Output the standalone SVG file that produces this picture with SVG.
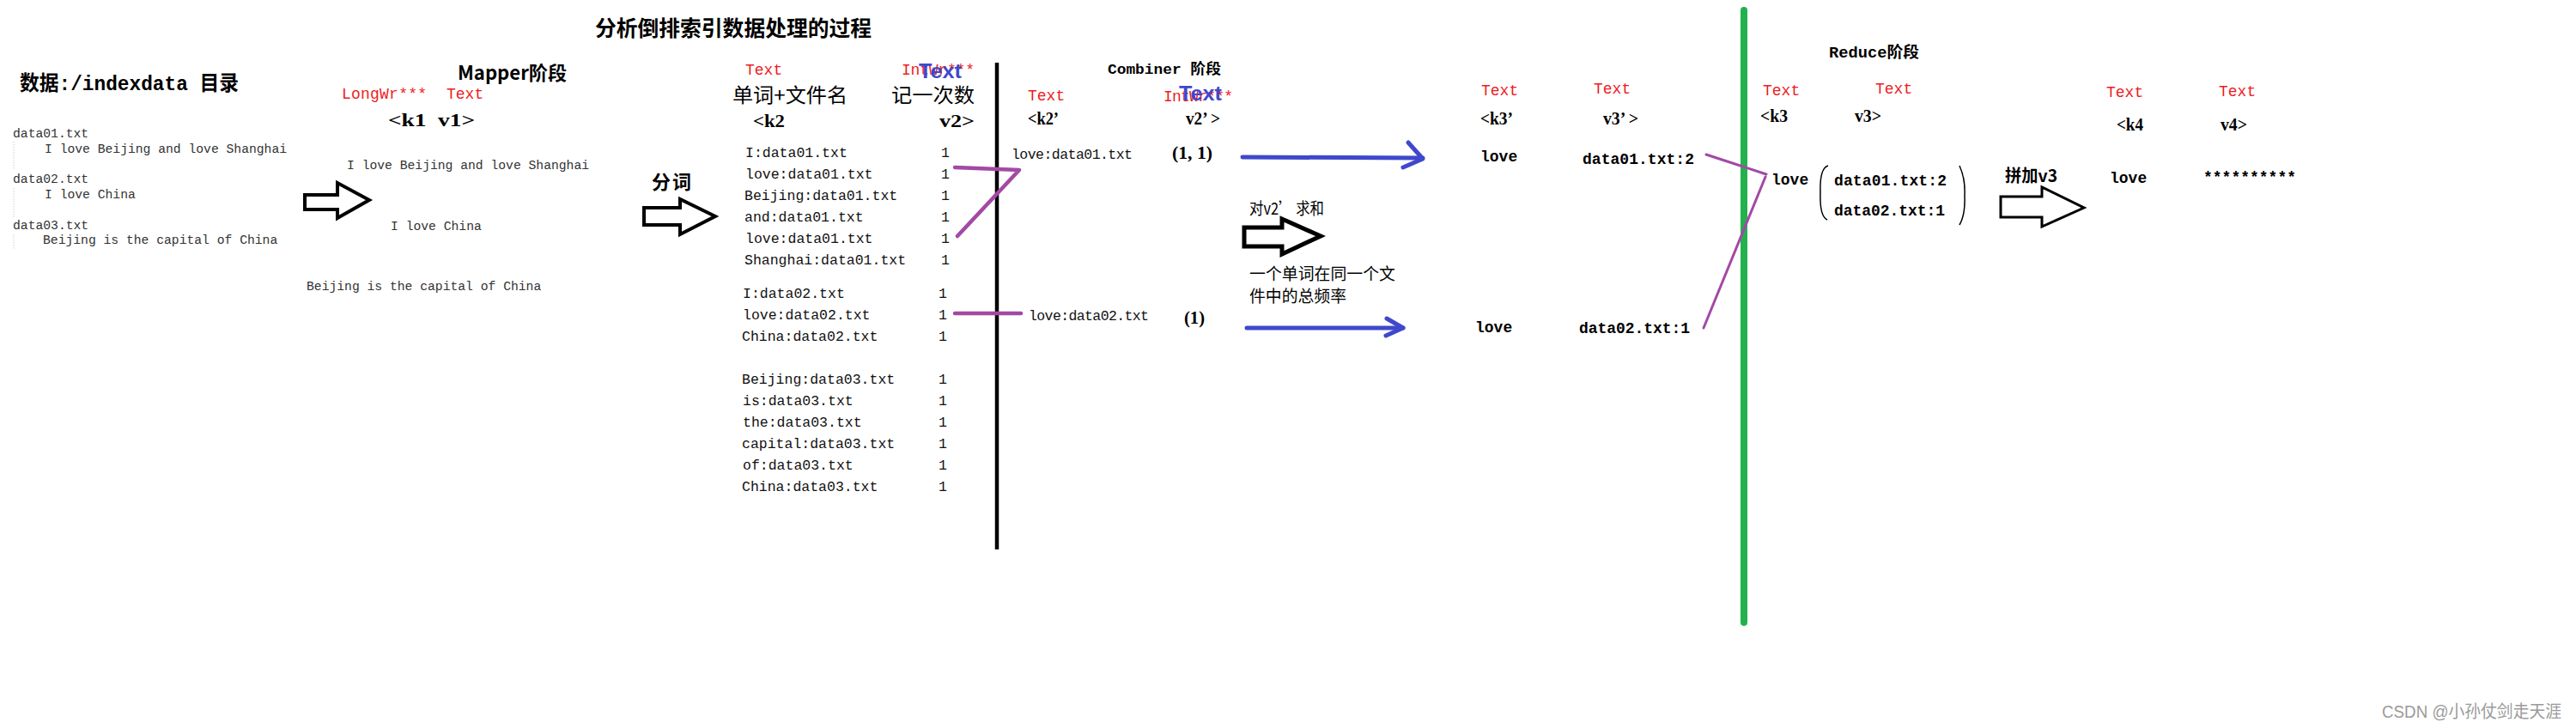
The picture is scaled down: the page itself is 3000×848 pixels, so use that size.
<svg xmlns="http://www.w3.org/2000/svg" width="3000" height="848" viewBox="0 0 3000 848">
<style>
  .cn { font-family: "Noto Sans CJK SC", "Liberation Sans", sans-serif; fill: #000; }
  .mixb { font-family: "Liberation Mono", "Noto Sans CJK SC", monospace; font-weight: bold; fill: #000; }
  .file { font-family: "Liberation Mono", monospace; font-size: 14.7px; fill: #333; }
  .row { font-family: "Liberation Mono", monospace; font-size: 16.5px; fill: #111; }
  .red { font-family: "Liberation Mono", monospace; font-size: 18px; fill: #ED1C24; }
  .blue { font-family: "Liberation Sans", sans-serif; font-size: 24px; font-weight: bold; fill: #3F48CC; }
  .kv { font-family: "Liberation Serif", serif; font-weight: bold; font-size: 20px; fill: #000; }
  .val { font-family: "Liberation Mono", monospace; font-weight: bold; font-size: 18px; fill: #000; }
  .hollow { fill: #fff; stroke: #000; stroke-linejoin: miter; }
  .purple { fill: none; stroke: #A349A4; stroke-linecap: round; stroke-linejoin: round; }
  .bluearrow { fill: none; stroke: #3F48CC; stroke-width: 5; stroke-linecap: round; stroke-linejoin: round; }
  .bracket { fill: none; stroke: #000; stroke-width: 1.5; }
</style>
<rect width="3000" height="848" fill="#fff"/>

<g id="title">
  <text class="cn" x="693" y="42" font-size="24.5" font-weight="bold" textLength="322" lengthAdjust="spacingAndGlyphs">分析倒排索引数据处理的过程</text>
</g>

<g id="input-data">
  <text class="mixb" x="23" y="105" font-size="24" textLength="255" lengthAdjust="spacingAndGlyphs">数据:/indexdata 目录</text>
  <path d="M16,165 V197 M16,219 V253 M16,273 V290" stroke="#cfcfcf" stroke-width="1" stroke-dasharray="1.5 1.5" fill="none"/>
  <text class="file" x="15" y="160">data01.txt</text>
  <text class="file" x="52" y="178">I love Beijing and love Shanghai</text>
  <text class="file" x="15" y="213">data02.txt</text>
  <text class="file" x="52" y="231">I love China</text>
  <text class="file" x="15" y="267">data03.txt</text>
  <text class="file" x="50" y="284">Beijing is the capital of China</text>
</g>

<g id="mapper-stage">
  <text class="cn" x="533" y="93" font-size="22" font-weight="bold" textLength="127" lengthAdjust="spacingAndGlyphs">Mapper阶段</text>
  <text class="red" x="398" y="115" textLength="99">LongWr***</text>
  <text class="red" x="520" y="115">Text</text>
  <text class="kv" x="452" y="147" font-size="22" textLength="101" lengthAdjust="spacingAndGlyphs">&lt;k1&#160;&#160;v1&gt;</text>
  <text class="file" x="404" y="197">I love Beijing and love Shanghai</text>
  <text class="file" x="455" y="268">I love China</text>
  <text class="file" x="357" y="338">Beijing is the capital of China</text>
</g>

<g id="split-label">
  <text class="cn" x="759" y="220" font-size="22" font-weight="bold" textLength="46">分词</text>
</g>

<g id="map-output">
  <text class="red" x="868" y="87">Text</text>
  <text class="red" x="1050" y="87" textLength="85">IntWr***</text>
  <text class="blue" x="1070" y="91" textLength="50" lengthAdjust="spacingAndGlyphs">Text</text>
  <text class="cn" x="853" y="119" font-size="23" textLength="134" lengthAdjust="spacingAndGlyphs">单词+文件名</text>
  <text class="cn" x="1038" y="119" font-size="23" textLength="97" lengthAdjust="spacingAndGlyphs">记一次数</text>
  <text class="kv" x="877" y="148" font-size="23" textLength="37" lengthAdjust="spacingAndGlyphs">&lt;k2</text>
  <text class="kv" x="1094" y="148" font-size="23" textLength="41" lengthAdjust="spacingAndGlyphs">v2&gt;</text>
  <text class="row" x="868" y="183">I:data01.txt</text>
  <text class="row" x="868" y="208">love:data01.txt</text>
  <text class="row" x="867" y="233">Beijing:data01.txt</text>
  <text class="row" x="867" y="258">and:data01.txt</text>
  <text class="row" x="868" y="283">love:data01.txt</text>
  <text class="row" x="867" y="308">Shanghai:data01.txt</text>
  <text class="row" x="865" y="347">I:data02.txt</text>
  <text class="row" x="865" y="372">love:data02.txt</text>
  <text class="row" x="864" y="397">China:data02.txt</text>
  <text class="row" x="864" y="447">Beijing:data03.txt</text>
  <text class="row" x="865" y="472">is:data03.txt</text>
  <text class="row" x="865" y="497">the:data03.txt</text>
  <text class="row" x="864" y="522">capital:data03.txt</text>
  <text class="row" x="865" y="547">of:data03.txt</text>
  <text class="row" x="864" y="572">China:data03.txt</text>
  <text class="row" x="1096" y="183">1</text>
  <text class="row" x="1096" y="208">1</text>
  <text class="row" x="1096" y="233">1</text>
  <text class="row" x="1096" y="258">1</text>
  <text class="row" x="1096" y="283">1</text>
  <text class="row" x="1096" y="308">1</text>
  <text class="row" x="1093" y="347">1</text>
  <text class="row" x="1093" y="372">1</text>
  <text class="row" x="1093" y="397">1</text>
  <text class="row" x="1093" y="447">1</text>
  <text class="row" x="1093" y="472">1</text>
  <text class="row" x="1093" y="497">1</text>
  <text class="row" x="1093" y="522">1</text>
  <text class="row" x="1093" y="547">1</text>
  <text class="row" x="1093" y="572">1</text>
</g>

<g id="combiner-stage">
  <text class="mixb" x="1290" y="86" font-size="17" textLength="132" lengthAdjust="spacingAndGlyphs">Combiner 阶段</text>
  <text class="red" x="1197" y="117">Text</text>
  <text class="red" x="1355" y="118" textLength="81">IntWr***</text>
  <text class="blue" x="1373" y="117" textLength="50" lengthAdjust="spacingAndGlyphs">Text</text>
  <text class="kv" x="1197" y="145" textLength="36" lengthAdjust="spacingAndGlyphs">&lt;k2’</text>
  <text class="kv" x="1381" y="145" textLength="40" lengthAdjust="spacingAndGlyphs">v2’ &gt;</text>
  <text class="row" x="1178" y="185" font-size="15.7" textLength="141">love:data01.txt</text>
  <text class="kv" x="1365" y="185" font-size="21" textLength="47" lengthAdjust="spacingAndGlyphs">(1, 1)</text>
  <text class="row" x="1198" y="373" font-size="15.7" textLength="140">love:data02.txt</text>
  <text class="kv" x="1379" y="377" font-size="21" textLength="24" lengthAdjust="spacingAndGlyphs">(1)</text>
  <text class="cn" x="1455" y="250" font-size="19" textLength="87" lengthAdjust="spacingAndGlyphs">对v2’ 求和</text>
  <text class="cn" x="1455" y="326" font-size="19" textLength="170" lengthAdjust="spacingAndGlyphs">一个单词在同一个文</text>
  <text class="cn" x="1455" y="352" font-size="19" textLength="113" lengthAdjust="spacingAndGlyphs">件中的总频率</text>
</g>

<g id="combiner-output">
  <text class="red" x="1725" y="111">Text</text>
  <text class="red" x="1856" y="109">Text</text>
  <text class="kv" x="1724" y="145" textLength="38" lengthAdjust="spacingAndGlyphs">&lt;k3’</text>
  <text class="kv" x="1867" y="145" textLength="41" lengthAdjust="spacingAndGlyphs">v3’ &gt;</text>
  <text class="val" x="1724" y="188" font-size="17.5">love</text>
  <text class="val" x="1843" y="191" textLength="130">data01.txt:2</text>
  <text class="val" x="1718" y="387" font-size="17.5">love</text>
  <text class="val" x="1839" y="388" textLength="129">data02.txt:1</text>
</g>

<g id="reduce-stage">
  <text class="mixb" x="2130" y="67" font-size="18" textLength="105" lengthAdjust="spacingAndGlyphs">Reduce阶段</text>
  <text class="red" x="2053" y="111">Text</text>
  <text class="red" x="2184" y="109">Text</text>
  <text class="kv" x="2050" y="142" textLength="32" lengthAdjust="spacingAndGlyphs">&lt;k3</text>
  <text class="kv" x="2160" y="142" textLength="31" lengthAdjust="spacingAndGlyphs">v3&gt;</text>
  <text class="val" x="2063" y="215">love</text>
  <path class="bracket" d="M2129,193 Q2119,196 2120,224 Q2119,252 2128,256"/>
  <path class="bracket" d="M2282,193 Q2289,208 2288,228 Q2289,250 2282,262"/>
  <text class="val" x="2136" y="216" textLength="131">data01.txt:2</text>
  <text class="val" x="2136" y="251" textLength="129">data02.txt:1</text>
  <text class="cn" x="2335" y="212" font-size="20" font-weight="bold" textLength="61" lengthAdjust="spacingAndGlyphs">拼加v3</text>
</g>

<g id="reduce-output">
  <text class="red" x="2453" y="113">Text</text>
  <text class="red" x="2584" y="112">Text</text>
  <text class="kv" x="2465" y="152" textLength="31" lengthAdjust="spacingAndGlyphs">&lt;k4</text>
  <text class="kv" x="2586" y="152" textLength="31" lengthAdjust="spacingAndGlyphs">v4&gt;</text>
  <text class="val" x="2457" y="213" font-size="17">love</text>
  <text class="val" x="2566" y="212" textLength="108">**********</text>
</g>

<g id="connectors">
  <line x1="1161" y1="73" x2="1161" y2="640" stroke="#000" stroke-width="4.5"/>
  <line x1="2031" y1="12" x2="2031" y2="725" stroke="#22B14C" stroke-width="8" stroke-linecap="round"/>
  <polygon class="hollow" stroke-width="4" points="355,227 393,227 393,213 430,233 393,254 393,244 355,244"/>
  <polygon class="hollow" stroke-width="4" points="750,242 792,242 792,232 833,252 792,273 792,262 750,262"/>
  <polygon class="hollow" stroke-width="5" points="1449,265 1493,265 1493,255 1538,275 1493,296 1493,287 1449,287"/>
  <polygon class="hollow" stroke-width="3" points="2330,229 2378,229 2378,218 2427,242 2378,264 2378,253 2330,253"/>
  <path class="purple" stroke-width="4.5" d="M1112,195 L1187,198 L1115,275"/>
  <path class="purple" stroke-width="4.5" d="M1112,365 L1189,365"/>
  <path class="purple" stroke-width="3" d="M1987,180 L2057,203"/>
  <path class="purple" stroke-width="3" d="M2056,206 L1984,382"/>
  <path class="bluearrow" d="M1447,183 L1657,184"/>
  <path class="bluearrow" d="M1640,166 L1657,185 L1634,195"/>
  <path class="bluearrow" d="M1452,382 L1634,382"/>
  <path class="bluearrow" d="M1615,371 L1634,382 L1614,391"/>
</g>

<g id="watermark">
  <text x="2774" y="836" font-family="'Liberation Sans', 'Noto Sans CJK SC', sans-serif" font-size="20" fill="#9a9a9a" textLength="209" lengthAdjust="spacingAndGlyphs">CSDN @小孙仗剑走天涯</text>
</g>
</svg>
